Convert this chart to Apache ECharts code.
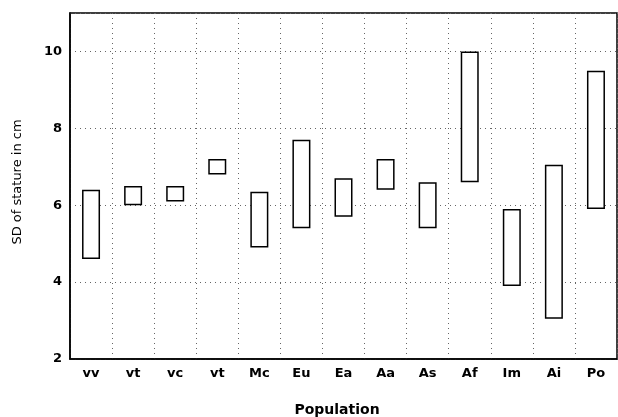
<!DOCTYPE html>
<html><head><meta charset="utf-8">
<script src="https://cdn.jsdelivr.net/npm/echarts@6/dist/echarts.min.js"></script>
<style>html,body{margin:0;padding:0;background:#fff}#c{width:618px;height:417px}</style>
</head><body><div id="c"></div>
<script>
const categories = ['vv','vt','vc','vt','Mc','Eu','Ea','Aa','As','Af','Im','Ai','Po'];
const lowValues  = [4.6, 6.0, 6.1, 6.8, 4.9, 5.4, 5.7, 6.4, 5.4, 6.6, 3.9, 3.05, 5.9];
const highValues = [6.4, 6.5, 6.5, 7.2, 6.35, 7.7, 6.7, 7.2, 6.6, 10.0, 5.9, 7.05, 9.5];
const yTicks = [2, 4, 6, 8, 10];

const chart = echarts.init(document.getElementById('c'), null, {renderer:'canvas'});
const boxData = highValues.map((h,i)=> +(h - lowValues[i]).toFixed(3));
const font = '"DejaVu Sans", sans-serif';
chart.setOption({
  animation:false,
  backgroundColor:'#fff',
  grid:{left:70, right:1, top:13, bottom:58, show:true, borderColor:'#000', borderWidth:1.5, backgroundColor:'transparent'},
  xAxis:{
    type:'category', data:categories,
    axisLine:{show:true, lineStyle:{color:'#000', width:1.5}},
    axisTick:{show:false},
    axisLabel:{color:'#000', fontFamily:font, fontSize:13, fontWeight:'bold', margin:8},
    splitLine:{show:true, interval:0, lineStyle:{color:'#666', type:[1,4], width:1}}
  },
  yAxis:{
    type:'value', min:2, max:11, interval:2,
    axisLine:{show:true, lineStyle:{color:'#000', width:1.5}},
    axisTick:{show:false},
    axisLabel:{color:'#000', fontFamily:font, fontSize:13, fontWeight:'bold', margin:8,
      formatter:v=> yTicks.includes(v) ? String(v) : ''},
    splitLine:{show:true, lineStyle:{color:'#666', type:[1,4], width:1}}
  },
  graphic:[
    {type:'text', x:18, y:182, rotation:Math.PI/2, style:{text:'SD of stature in cm', font:'13px '+font, fill:'#000', textAlign:'center', textVerticalAlign:'middle'}},
    {type:'text', x:337, y:410, style:{text:'Population', font:'bold 14px '+font, fill:'#000', textAlign:'center', textVerticalAlign:'middle'}}
  ],
  series:[
    {type:'bar', stack:'s', data:lowValues, barWidth:18, itemStyle:{color:'transparent'}, silent:true},
    {type:'bar', stack:'s', data:boxData, barWidth:18, itemStyle:{color:'#fff', borderColor:'#000', borderWidth:1.5}}
  ]
});
</script></body></html>
